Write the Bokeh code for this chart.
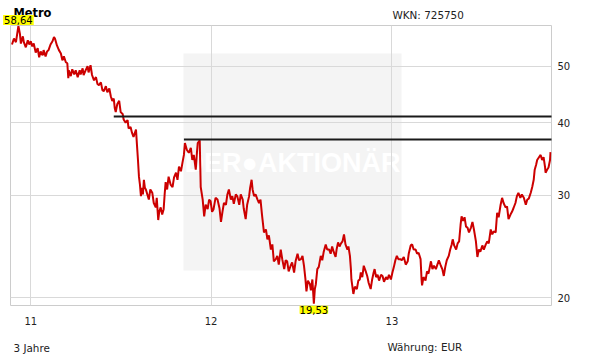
import math
import pandas as pd
from bokeh.plotting import figure
from bokeh.models import (Range1d, FixedTicker, DatetimeTickFormatter, BasicTickFormatter,
                          Label, BoxAnnotation, ColumnDataSource)
from bokeh.embed import file_html
from bokeh.resources import INLINE

title = "Metro"
wkn = "WKN: 725750"
period = "3 Jahre"
currency = "Währung: EUR"

dates = [
    "2010-11-24", "2010-11-28", "2010-12-02", "2010-12-07", "2010-12-10", "2010-12-12", "2010-12-16", "2010-12-18",
    "2010-12-22", "2010-12-26", "2010-12-29", "2011-01-01", "2011-01-04", "2011-01-07", "2011-01-11", "2011-01-15",
    "2011-01-18", "2011-01-21", "2011-01-25", "2011-01-27", "2011-01-31", "2011-02-03", "2011-02-06", "2011-02-10",
    "2011-02-14", "2011-02-17", "2011-02-19", "2011-02-23", "2011-02-27", "2011-03-03", "2011-03-06", "2011-03-09",
    "2011-03-13", "2011-03-16", "2011-03-18", "2011-03-19", "2011-03-23", "2011-03-26", "2011-03-30", "2011-04-02",
    "2011-04-06", "2011-04-10", "2011-04-12", "2011-04-16", "2011-04-18", "2011-04-22", "2011-04-26", "2011-04-28",
    "2011-05-02", "2011-05-05", "2011-05-09", "2011-05-13", "2011-05-16", "2011-05-19", "2011-05-23", "2011-05-26",
    "2011-05-29", "2011-06-02", "2011-06-05", "2011-06-09", "2011-06-12", "2011-06-15", "2011-06-18", "2011-06-20",
    "2011-06-22", "2011-06-25", "2011-06-29", "2011-07-02", "2011-07-06", "2011-07-08", "2011-07-12", "2011-07-16",
    "2011-07-18", "2011-07-22", "2011-07-25", "2011-07-28", "2011-08-02", "2011-08-04", "2011-08-06", "2011-08-08",
    "2011-08-10", "2011-08-12", "2011-08-14", "2011-08-16", "2011-08-18", "2011-08-20", "2011-08-22", "2011-08-25",
    "2011-08-28", "2011-08-31", "2011-09-04", "2011-09-07", "2011-09-11", "2011-09-13", "2011-09-16", "2011-09-18",
    "2011-09-21", "2011-09-24", "2011-09-27", "2011-09-29", "2011-10-01", "2011-10-04", "2011-10-07", "2011-10-11",
    "2011-10-15", "2011-10-18", "2011-10-22", "2011-10-25", "2011-10-28", "2011-11-01", "2011-11-04", "2011-11-07",
    "2011-11-09", "2011-11-13", "2011-11-17", "2011-11-21", "2011-11-24", "2011-11-27", "2011-12-01", "2011-12-03",
    "2011-12-05", "2011-12-09", "2011-12-11", "2011-12-15", "2011-12-18", "2011-12-21", "2011-12-25", "2011-12-28",
    "2011-12-31", "2012-01-03", "2012-01-06", "2012-01-10", "2012-01-14", "2012-01-18", "2012-01-21", "2012-01-24",
    "2012-01-27", "2012-01-31", "2012-02-03", "2012-02-06", "2012-02-10", "2012-02-13", "2012-02-16", "2012-02-20",
    "2012-02-23", "2012-02-27", "2012-03-01", "2012-03-05", "2012-03-07", "2012-03-11", "2012-03-14", "2012-03-18",
    "2012-03-20", "2012-03-23", "2012-03-25", "2012-03-28", "2012-03-31", "2012-04-04", "2012-04-07", "2012-04-10",
    "2012-04-13", "2012-04-14", "2012-04-17", "2012-04-21", "2012-04-24", "2012-04-27", "2012-05-01", "2012-05-04",
    "2012-05-07", "2012-05-11", "2012-05-14", "2012-05-17", "2012-05-21", "2012-05-24", "2012-05-28", "2012-05-31",
    "2012-06-03", "2012-06-06", "2012-06-10", "2012-06-13", "2012-06-17", "2012-06-20", "2012-06-24", "2012-06-27",
    "2012-07-01", "2012-07-04", "2012-07-07", "2012-07-10", "2012-07-12", "2012-07-15", "2012-07-19", "2012-07-21",
    "2012-07-24", "2012-07-27", "2012-07-29", "2012-07-31", "2012-08-03", "2012-08-06", "2012-08-10", "2012-08-13",
    "2012-08-16", "2012-08-20", "2012-08-23", "2012-08-27", "2012-08-30", "2012-09-02", "2012-09-05", "2012-09-09",
    "2012-09-11", "2012-09-14", "2012-09-17", "2012-09-20", "2012-09-23", "2012-09-26", "2012-09-29", "2012-10-03",
    "2012-10-05", "2012-10-08", "2012-10-10", "2012-10-11", "2012-10-15", "2012-10-18", "2012-10-22", "2012-10-25",
    "2012-10-28", "2012-10-30", "2012-11-02", "2012-11-05", "2012-11-09", "2012-11-12", "2012-11-15", "2012-11-19",
    "2012-11-22", "2012-11-25", "2012-11-27", "2012-11-30", "2012-12-03", "2012-12-06", "2012-12-10", "2012-12-13",
    "2012-12-16", "2012-12-20", "2012-12-23", "2012-12-26", "2012-12-30", "2013-01-02", "2013-01-05", "2013-01-08",
    "2013-01-11", "2013-01-14", "2013-01-18", "2013-01-21", "2013-01-25", "2013-01-29", "2013-02-02", "2013-02-04",
    "2013-02-08", "2013-02-11", "2013-02-14", "2013-02-18", "2013-02-21", "2013-02-24", "2013-02-28", "2013-03-02",
    "2013-03-03", "2013-03-06", "2013-03-10", "2013-03-13", "2013-03-16", "2013-03-21", "2013-03-24", "2013-03-27",
    "2013-03-31", "2013-04-03", "2013-04-06", "2013-04-10", "2013-04-13", "2013-04-16", "2013-04-19", "2013-04-22",
    "2013-04-26", "2013-04-29", "2013-05-02", "2013-05-04", "2013-05-07", "2013-05-11", "2013-05-14", "2013-05-17",
    "2013-05-20", "2013-05-22", "2013-05-25", "2013-05-28", "2013-05-31", "2013-06-03", "2013-06-06", "2013-06-10",
    "2013-06-13", "2013-06-16", "2013-06-18", "2013-06-20", "2013-06-23", "2013-06-26", "2013-06-29", "2013-07-03",
    "2013-07-06", "2013-07-10", "2013-07-13", "2013-07-16", "2013-07-20", "2013-07-23", "2013-07-26", "2013-07-30",
    "2013-08-02", "2013-08-05", "2013-08-09", "2013-08-12", "2013-08-15", "2013-08-19", "2013-08-22", "2013-08-25",
    "2013-08-29", "2013-09-01", "2013-09-04", "2013-09-08", "2013-09-11", "2013-09-14", "2013-09-18", "2013-09-21",
    "2013-09-25", "2013-09-29", "2013-10-02", "2013-10-05", "2013-10-09", "2013-10-12", "2013-10-15", "2013-10-17",
    "2013-10-20", "2013-10-22", "2013-10-25", "2013-10-29", "2013-11-01", "2013-11-04", "2013-11-07", "2013-11-08",
    "2013-11-11", "2013-11-14", "2013-11-17", "2013-11-18",
]

prices = [
    54.5, 55.8, 55.0, 58.64, 56.9, 54.7, 56.3, 55.0,
    53.9, 55.4, 54.5, 55.2, 54.1, 54.7, 52.8, 53.7,
    51.8, 53.0, 52.2, 53.3, 52.0, 53.0, 53.3, 54.5,
    55.2, 56.1, 55.8, 54.3, 53.3, 52.6, 51.2, 52.0,
    50.8, 50.6, 47.7, 49.2, 48.1, 49.4, 48.4, 49.2,
    47.9, 49.2, 48.4, 49.6, 48.3, 49.2, 50.0, 48.8,
    50.2, 48.3, 47.3, 47.9, 46.6, 46.4, 46.9, 45.5,
    45.3, 46.2, 45.1, 45.8, 44.4, 43.6, 44.0, 42.4,
    41.7, 43.0, 43.6, 41.7, 41.4, 40.5, 40.0, 40.4,
    39.1, 39.3, 38.4, 37.8, 38.9, 36.6, 34.5, 32.3,
    31.3, 29.9, 30.9, 30.1, 31.9, 30.9, 30.7, 30.1,
    29.5, 30.7, 30.3, 29.1, 28.6, 29.7, 27.2, 28.1,
    28.6, 27.8, 28.4, 30.1, 31.6, 30.7, 32.3, 31.3,
    31.0, 32.2, 32.8, 31.9, 33.6, 33.0, 34.1, 35.2,
    36.9, 35.9, 35.5, 36.2, 34.5, 35.2, 33.2, 35.2,
    36.9, 37.3, 31.0, 29.5, 27.6, 28.9, 28.4, 29.5,
    29.3, 28.1, 28.4, 29.7, 29.5, 28.5, 27.0, 28.1,
    29.1, 28.9, 30.1, 30.7, 29.5, 29.9, 29.0, 30.1,
    29.9, 28.9, 30.1, 29.5, 28.5, 27.3, 28.9, 29.9,
    30.9, 31.9, 30.7, 29.9, 30.1, 29.5, 29.1, 29.5,
    27.8, 27.3, 25.9, 26.2, 25.2, 25.6, 24.2, 24.7,
    23.1, 23.3, 23.6, 22.8, 24.2, 23.3, 22.4, 23.2,
    23.1, 22.2, 22.7, 23.0, 22.1, 23.1, 23.8, 23.2,
    23.3, 23.6, 22.7, 21.5, 20.5, 21.4, 21.1, 20.6,
    21.5, 19.53, 20.7, 21.1, 22.4, 22.6, 23.6, 23.2,
    24.0, 24.7, 24.2, 24.2, 23.8, 24.5, 24.0, 23.5,
    24.2, 24.9, 24.5, 24.8, 25.0, 25.7, 24.7, 24.2,
    24.5, 23.6, 22.4, 21.5, 20.3, 20.9, 20.7, 21.4,
    21.5, 22.1, 21.7, 22.7, 22.2, 21.8, 21.2, 20.7,
    21.5, 22.1, 22.4, 21.7, 21.9, 21.4, 21.9, 21.8,
    21.3, 21.7, 21.5, 21.9, 21.5, 22.1, 22.6, 23.2,
    23.6, 23.3, 23.3, 23.2, 23.5, 22.8, 23.1, 23.8,
    24.6, 24.7, 24.2, 24.2, 23.8, 23.9, 23.3, 21.5,
    21.0, 21.7, 21.4, 22.2, 22.0, 23.1, 22.4, 22.7,
    22.4, 22.8, 23.2, 22.7, 22.4, 21.8, 22.6, 23.2,
    23.6, 24.2, 24.7, 25.2, 24.6, 24.2, 24.8, 25.0,
    26.7, 27.6, 27.1, 27.5, 26.5, 26.4, 25.9, 26.4,
    27.0, 26.2, 25.6, 25.0, 23.5, 24.2, 24.0, 24.6,
    24.2, 24.7, 25.0, 24.8, 26.2, 25.7, 26.0, 25.9,
    28.0, 27.5, 28.9, 29.7, 29.1, 28.6, 28.7, 27.3,
    27.8, 28.1, 28.5, 29.1, 29.9, 30.3, 29.7, 30.1,
    29.7, 28.9, 29.5, 29.6, 30.3, 31.0, 31.9, 33.2,
    33.9, 34.5, 34.8, 35.2, 34.5, 34.9, 33.5, 32.8,
    33.2, 33.5, 34.5, 35.6,
]

# horizontal resistance lines: start date and level
hline_starts = ["2011-06-18", "2011-11-07"]
hline_levels = [41.0, 37.4]

x_tick_dates = ["2011-01-01", "2012-01-01", "2013-01-01"]
y_ticks = [20, 30, 40, 50]

FONT = "DejaVu Sans"
TXT = "#222222"
W, H = 611, 364
BL, BR, BT, BB = 10, 60, 25, 59          # borders around the plot frame
FH = H - BT - BB                          # frame height

dt = pd.to_datetime(pd.Series(dates))
src = ColumnDataSource(dict(x=dt, y=prices))

imax = max(range(len(prices)), key=lambda i: prices[i])
imin = min(range(len(prices)), key=lambda i: prices[i])
vmax, vmin = prices[imax], prices[imin]
y_top, y_bot = vmax * 1.002, vmin * 0.993

p = figure(width=W, height=H, x_axis_type="datetime", y_axis_type="log",
           y_axis_location="right", toolbar_location=None, output_backend="svg",
           min_border_left=BL, min_border_right=BR, min_border_top=BT, min_border_bottom=BB,
           x_range=Range1d(dt.iloc[0] - pd.Timedelta(days=3), dt.iloc[-1] + pd.Timedelta(days=2)),
           y_range=Range1d(y_bot, y_top))

p.background_fill_color = "white"
p.border_fill_color = "white"
p.outline_line_color = "#cccccc"
p.outline_line_width = 1

# watermark
p.add_layout(BoxAnnotation(left=173, right=391, top=252, bottom=35,
                           left_units="screen", right_units="screen",
                           top_units="screen", bottom_units="screen",
                           fill_color="#f4f4f4", fill_alpha=1.0, line_alpha=0, level="image"))
p.add_layout(Label(x=282, y=143, x_units="screen", y_units="screen", text="DER●AKTIONÄR",
                   text_align="center", text_baseline="middle", text_color="white",
                   text_font="Liberation Sans", text_font_style="bold", text_font_size="27px",
                   level="image"))

# axes
xt = [pd.Timestamp(d).value // 10**6 for d in x_tick_dates]
p.xaxis.ticker = FixedTicker(ticks=xt)
p.xaxis.formatter = DatetimeTickFormatter(years="%y", months="%y", days="%y", hours="%y")
p.yaxis.ticker = FixedTicker(ticks=y_ticks)
p.yaxis.formatter = BasicTickFormatter()
for ax in (p.xaxis[0], p.yaxis[0]):
    ax.axis_line_color = None
    ax.major_tick_line_color = None
    ax.minor_tick_line_color = None
    ax.major_tick_out = 0
    ax.major_tick_in = 0
    ax.minor_tick_out = 0
    ax.minor_tick_in = 0
    ax.major_label_text_font = FONT
    ax.major_label_text_font_size = "10px"
    ax.major_label_text_color = TXT
p.xaxis.major_label_standoff = 11
p.yaxis.major_label_standoff = 6

p.grid.grid_line_color = "#d9d9d9"
p.grid.grid_line_width = 1

# price line
p.line("x", "y", source=src, line_color="#cc0000", line_width=2)

# resistance lines (to the right edge)
p.ray(x=pd.to_datetime(pd.Series(hline_starts)), y=hline_levels, length=0, angle=0,
      line_color="#1a1a1a", line_width=2)


def y_at(canvas_y):
    """value on the log y scale that lands at a given pixel row of the canvas"""
    span = math.log10(y_top / y_bot)
    return 10 ** (math.log10(y_top) - (canvas_y - BT) / FH * span)


# texts live in side panels (annotations in the plot centre are clipped to the frame)
fmt = lambda v: f"{v:.2f}".replace(".", ",")
p.add_layout(Label(x=dt.iloc[imax], y=vmax, text=fmt(vmax), text_align="center",
                   text_baseline="bottom", y_offset=1, text_font=FONT, text_font_size="10px",
                   text_color="black", background_fill_color="#ffff00", padding=1), "right")
p.add_layout(Label(x=dt.iloc[imin], y=vmin, text=fmt(vmin), text_align="center",
                   text_baseline="top", y_offset=-2, text_font=FONT, text_font_size="10px",
                   text_color="black", background_fill_color="#ffff00", padding=0), "above")
p.add_layout(Label(x=3, y=y_at(5), x_units="screen", text=title,
                   text_baseline="top", text_font=FONT, text_font_style="bold",
                   text_font_size="11.4px", text_color="black"), "above")
p.add_layout(Label(x=382, y=y_at(8), x_units="screen", text=wkn,
                   text_baseline="top", text_font=FONT, text_font_size="10.4px",
                   text_color=TXT), "below")
p.add_layout(Label(x=3, y=y_at(341), x_units="screen", text=period,
                   text_baseline="top", text_font=FONT, text_font_size="10.4px",
                   text_color=TXT), "below")
p.add_layout(Label(x=377, y=y_at(340.5), x_units="screen", text=currency,
                   text_baseline="top", text_font=FONT, text_font_size="10.4px",
                   text_color=TXT), "below")

open("out.html", "w").write(file_html(p, INLINE))
